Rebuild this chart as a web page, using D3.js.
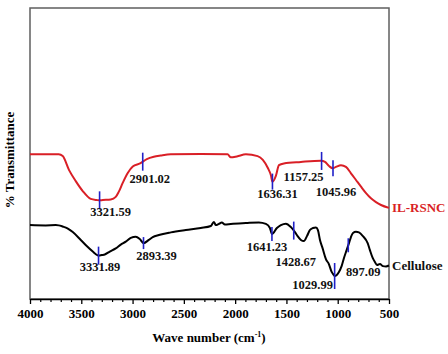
<!DOCTYPE html>
<html>
<head>
<meta charset="utf-8">
<script src="https://cdn.jsdelivr.net/npm/d3@7"></script>
<style>
  body { margin: 0; background: #fff; }
  svg text { font-family: "Liberation Serif", "Times New Roman", serif; font-weight: bold; }
</style>
</head>
<body>
<svg class="chart" width="448" height="354"></svg>
<script>
// IL-RSNC spectrum: wave number (cm-1) and relative transmittance
let rsnc_wn = [4000, 3720, 3681, 3619, 3554, 3486, 3408, 3349, 3320, 3291, 3213, 3164, 3135, 3096, 3047, 2998, 2927, 2861, 2793, 2725, 2627, 2335, 2074, 2042, 1983, 1895, 1781, 1730, 1681, 1652, 1636, 1603, 1573, 1525, 1359, 1163, 1124, 1085, 1049, 1017, 968, 920, 871, 822, 773, 724, 676, 627, 578, 500]
let rsnc_t = [49.7, 49.7, 49.1, 44.3, 40.5, 37.1, 34.4, 34.0, 33.9, 34.0, 34.2, 35.1, 36.8, 39.9, 43.3, 45.5, 46.6, 48.1, 48.9, 49.3, 49.7, 49.8, 49.7, 48.7, 49.0, 49.7, 49.1, 47.8, 45.0, 42.6, 40.3, 42.3, 46.0, 46.6, 47.1, 47.5, 47.1, 45.7, 44.9, 45.4, 46.0, 45.4, 43.2, 40.9, 38.6, 36.4, 34.6, 33.3, 32.3, 31.3]

// Cellulose spectrum
let cell_wn = [4000, 3847, 3749, 3720, 3681, 3635, 3583, 3505, 3447, 3388, 3340, 3332, 3300, 3271, 3222, 3164, 3115, 3066, 3017, 2969, 2930, 2893, 2842, 2803, 2744, 2627, 2481, 2335, 2237, 2208, 2188, 2159, 2130, 2100, 2042, 1895, 1769, 1700, 1661, 1641, 1593, 1554, 1505, 1456, 1417, 1391, 1359, 1330, 1300, 1271, 1242, 1212, 1193, 1173, 1147, 1115, 1086, 1059, 1037, 1030, 988, 962, 939, 913, 890, 871, 851, 822, 793, 754, 708, 686, 659, 637, 617, 588, 559, 529, 500]
let cell_t = [25.4, 25.3, 25.4, 25.3, 24.9, 24.3, 23.0, 20.3, 18.2, 16.3, 15.0, 14.9, 15.1, 15.3, 16.3, 17.4, 18.7, 19.7, 21.0, 21.4, 20.6, 19.2, 20.3, 21.3, 22.0, 22.9, 23.7, 24.4, 25.1, 26.5, 25.4, 25.8, 26.3, 25.6, 25.8, 26.1, 26.3, 25.8, 24.4, 22.3, 24.4, 25.4, 25.9, 24.7, 23.0, 21.6, 20.3, 19.9, 21.6, 23.7, 24.4, 24.6, 23.7, 20.3, 17.4, 13.7, 12.0, 9.3, 8.2, 7.9, 9.3, 11.3, 14.1, 16.8, 19.2, 21.3, 22.7, 23.1, 22.9, 21.6, 19.2, 16.8, 14.1, 12.7, 11.7, 12.0, 11.3, 11.2, 11.5]

// marked peaks
let rsnc_peaks = [3321.59, 2901.02, 1636.31, 1157.25, 1045.96]
let cell_peaks = [3331.89, 2893.39, 1641.23, 1428.67, 1029.99, 897.09]

let x_ticks = [4000, 3500, 3000, 2500, 2000, 1500, 1000, 500]

// label placement relative to the marker (dx, dy of text centre)
let rsnc_label_pos = [[11, 11], [7, 17], [5, 12], [-18, 16], [3, 23]]
let cell_label_pos = [[1.5, 11], [13, 12], [-5, 12], [2, 31], [-22, 8], [15, 26]]
let cell_tick_len = [9, 6, 7, 9, 13, 7]
let rsnc_tick_len = [9, 9, 8, 9, 8]

const margin = {top: 8, left: 30, right: 59, bottom: 55}
let width = 448
let height = 354

let svg = d3.select(".chart")

let xScale = d3.scaleLinear()
    .domain([4000, 500])
    .range([margin.left, width - margin.right])

let yScale = d3.scaleLinear()
    .domain([0, 100])
    .range([height - margin.bottom, margin.top])

function interp(wns, ts, w) {
    for (let i = 0; i < wns.length - 1; i++) {
        if (w <= wns[i] && w >= wns[i + 1]) {
            let f = (wns[i] - w) / (wns[i] - wns[i + 1])
            return ts[i] + f * (ts[i + 1] - ts[i])
        }
    }
    return ts[ts.length - 1]
}

// frame
svg.append("rect")
    .attr("x", margin.left)
    .attr("y", margin.top)
    .attr("width", xScale(500) - margin.left)
    .attr("height", yScale(0) - margin.top)
    .attr("fill", "none")
    .attr("stroke", "#5f5f5f")
    .attr("stroke-width", 1.5)

// x axis, major and minor ticks
let minor = d3.range(4000, 499, -100).filter(d => d % 500 !== 0)
svg.append("g")
    .attr("transform", `translate(0, ${yScale(0)})`)
    .call(d3.axisBottom(xScale).tickValues(minor).tickSize(3).tickFormat(""))
    .call(g => g.select(".domain").remove())
    .selectAll("line").attr("stroke", "#000").attr("stroke-width", 1.2)

let xAxis = svg.append("g")
    .attr("transform", `translate(0, ${yScale(0)})`)
    .call(d3.axisBottom(xScale).tickValues(x_ticks).tickFormat(d3.format("d"))
        .tickSize(5).tickSizeOuter(0).tickPadding(5))
xAxis.select(".domain").attr("stroke", "#000").attr("stroke-width", 1.5)
xAxis.selectAll("line").attr("stroke-width", 1.3)
xAxis.selectAll("text")
    .attr("font-size", 13)
    .attr("fill", "#000")

// axis titles
let xTitle = svg.append("text")
    .attr("x", 209)
    .attr("y", 342)
    .attr("text-anchor", "middle")
    .attr("font-size", 13)
xTitle.append("tspan").text("Wave number (cm")
xTitle.append("tspan").text("-1").attr("font-size", 8).attr("dy", -5)
xTitle.append("tspan").text(")").attr("dy", 5)

svg.append("text")
    .attr("transform", "translate(14, 160) rotate(-90)")
    .attr("text-anchor", "middle")
    .attr("font-size", 13)
    .text("% Transmittance")

let line = d3.line()
    .x(d => xScale(d[0]))
    .y(d => yScale(d[1]))
    .curve(d3.curveMonotoneX)

function draw_series(wns, ts, color, peaks, label_pos, tick_len, name, name_color) {
    let data = wns.map((w, i) => [w, ts[i]])
    svg.append("path")
        .datum(data)
        .attr("d", line)
        .attr("fill", "none")
        .attr("stroke", color)
        .attr("stroke-width", 2)
        .attr("stroke-linejoin", "round")

    let marks = peaks.map((p, i) => {
        return {
            wn: p,
            t: interp(wns, ts, p),
            dx: label_pos[i][0],
            dy: label_pos[i][1],
            len: tick_len[i]
        }
    })

    svg.append("g")
        .selectAll("line.peak")
        .data(marks)
        .enter()
        .append("line")
        .classed("peak", true)
        .attr("x1", d => xScale(d.wn))
        .attr("x2", d => xScale(d.wn))
        .attr("y1", d => yScale(d.t) - d.len)
        .attr("y2", d => yScale(d.t) + d.len)
        .attr("stroke", "#2020c8")
        .attr("stroke-width", 1.6)

    svg.append("g")
        .selectAll("text.peak")
        .data(marks)
        .enter()
        .append("text")
        .classed("peak", true)
        .attr("x", d => xScale(d.wn) + d.dx)
        .attr("y", d => yScale(d.t) + d.dy + 4.5)
        .attr("text-anchor", "middle")
        .attr("font-size", 12.5)
        .attr("fill", "#111")
        .text(d => d3.format(".2f")(d.wn))

    let last = data[data.length - 1]
    svg.append("text")
        .attr("x", xScale(last[0]) + 3)
        .attr("y", yScale(last[1]) + 4.5)
        .attr("font-size", 13)
        .attr("fill", name_color)
        .text(name)
}

draw_series(rsnc_wn, rsnc_t, "#d91f26", rsnc_peaks, rsnc_label_pos, rsnc_tick_len, "IL-RSNC", "#d91f26")
draw_series(cell_wn, cell_t, "#000", cell_peaks, cell_label_pos, cell_tick_len, "Cellulose", "#111")
</script>
</body>
</html>
